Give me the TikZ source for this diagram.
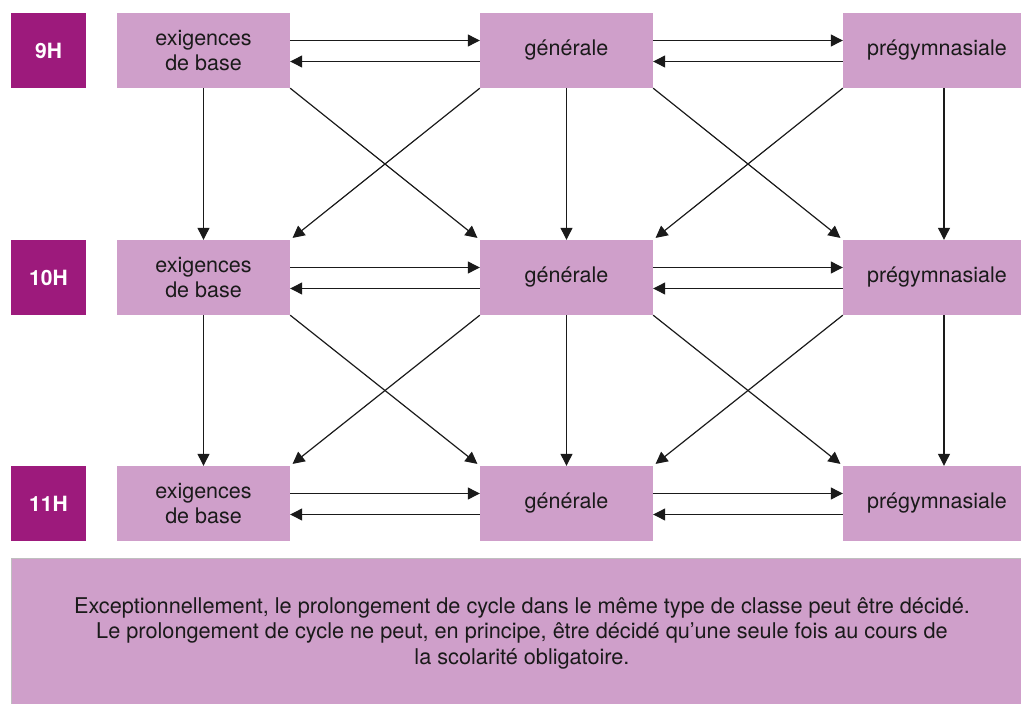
\documentclass[tikz,border=0pt]{standalone}
\usepackage{fontspec}
\setmainfont{TeX Gyre Heros}
\usetikzlibrary{arrows.meta}
\definecolor{lightbox}{HTML}{CF9FCA}
\definecolor{darkbox}{HTML}{9D1A7C}
\definecolor{txt}{HTML}{1A1A1A}
\begin{document}
\begin{tikzpicture}[x=1pt,y=-1pt,
  lbl/.style={fill=darkbox,minimum width=75pt,minimum height=75pt,inner sep=0pt,text=white,font=\fontsize{21}{24}\selectfont\bfseries},
  cls/.style={fill=lightbox,minimum height=75pt,inner sep=0pt,text=txt,align=center,font=\fontsize{21.5}{25}\selectfont},
  arr/.style={line width=1.2pt,draw=txt,-{Triangle[length=12pt,width=12pt]}},
  diag/.style={arr,shorten >=3pt}]
\useasboundingbox (0,0) rectangle (1021,704);
\begin{scope}
\clip (0,0) rectangle (1021,704);
% rows
\foreach \r/\y/\t in {1/50.5/9H,2/277.5/10H,3/503.5/11H}{
  \node[lbl] (l\r) at (48.5,\y) {\t};
  \node[cls,minimum width=173pt] (a\r) at (203.5,\y) {exigences\\de base};
  \node[cls,minimum width=173pt] (b\r) at (566.5,\y) {générale};
  \node[cls,minimum width=194pt] (c\r) at (940,\y) {\hspace*{-6pt}prégymnasiale};
}
% bottom box
\node[fill=lightbox,draw=black!25,line width=0.8pt,minimum width=1040pt,minimum height=160pt,anchor=north west,inner sep=0pt] (note) at (11,558) {};
\node[text=txt,align=center,font=\fontsize{21.7}{25.5}\selectfont] (notetxt) at (522,633)
  {Exceptionnellement, le prolongement de cycle dans le même type de classe peut être décidé.\\
   Le prolongement de cycle ne peut, en principe, être décidé qu’une seule fois au cours de\\
   la scolarité obligatoire.};
\end{scope}
% horizontal arrows
\foreach \r in {1,2,3}{
  \draw[arr] ([yshift=10pt]a\r.east) -- ([yshift=10pt]b\r.west);
  \draw[arr] ([yshift=-11pt]b\r.west) -- ([yshift=-11pt]a\r.east);
  \draw[arr] ([yshift=10pt]b\r.east) -- ([yshift=10pt]c\r.west);
  \draw[arr] ([yshift=-11pt]c\r.west) -- ([yshift=-11pt]b\r.east);
}
% vertical and diagonal arrows
\foreach \r/\s in {1/2,2/3}{
  \draw[arr] (a\r.south) -- (a\s.north);
  \draw[arr] (b\r.south) -- (b\s.north);
  \draw[arr] ([xshift=4pt]c\r.south) -- ([xshift=4pt]c\s.north);
  \draw[diag] (a\r.south east) -- (b\s.north west);
  \draw[diag] (b\r.south west) -- (a\s.north east);
  \draw[diag] (b\r.south east) -- (c\s.north west);
  \draw[diag] (c\r.south west) -- (b\s.north east);
}
\end{tikzpicture}
\end{document}
